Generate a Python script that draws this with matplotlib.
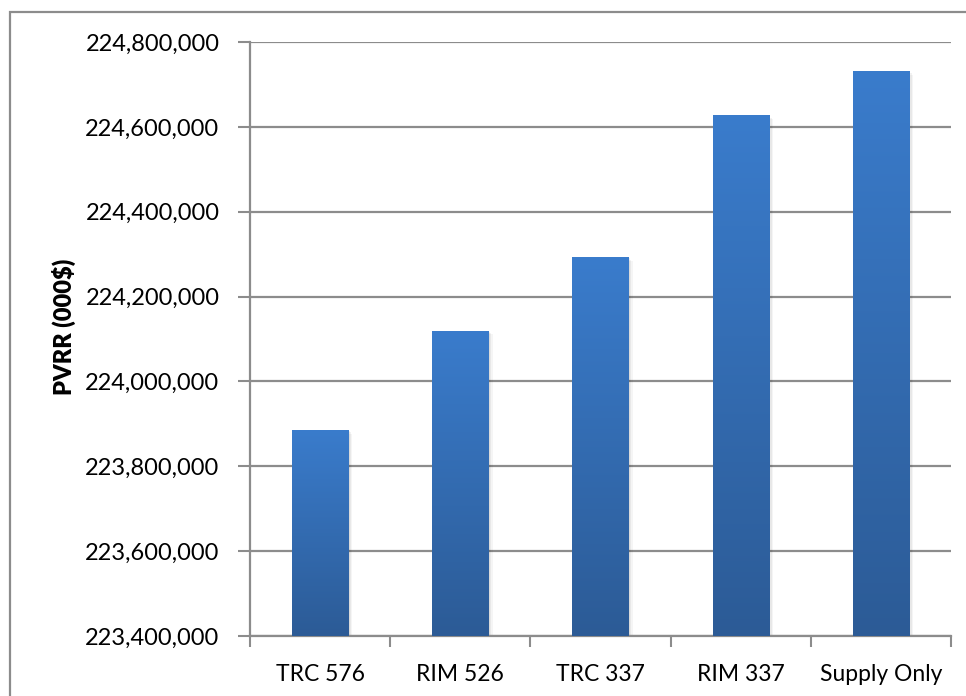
import numpy as np
import matplotlib.pyplot as plt
from matplotlib.colors import LinearSegmentedColormap
from matplotlib.patches import Rectangle
from matplotlib.ticker import FuncFormatter

categories = ["TRC 576", "RIM 526", "TRC 337", "RIM 337", "Supply Only"]
pvrr = [223886000, 224120000, 224293000, 224628000, 224732000]
y_min, y_max, y_step = 223400000, 224800000, 200000

plt.rcParams['font.family'] = ['Lato', 'DejaVu Sans']

fig = plt.figure(figsize=(9.66, 6.96), dpi=100)
ax = fig.add_axes([250 / 966, 60 / 696, 701 / 966, 594 / 696])

# outer chart border, runs off the right and bottom edges
fig.patches.append(Rectangle((10 / 966, -0.05), 1.1, (696 - 12) / 696 + 0.05,
                             transform=fig.transFigure, fill=False,
                             edgecolor='#8c8c8c', lw=1.6, zorder=0))

grid_col = '#8c8c8c'
x = np.arange(len(categories))
width = 0.4
bars = ax.bar(x, np.array(pvrr) - y_min, bottom=y_min, width=width,
              color='none', edgecolor='none', zorder=3)

cmap = LinearSegmentedColormap.from_list('bar', ['#2c5b96', '#3a7ccc'])
grad = np.linspace(0, 1, 256).reshape(-1, 1)
for b in bars:
    x0, y0 = b.get_x(), b.get_y()
    w, h = b.get_width(), b.get_height()
    # soft drop shadow
    for k, a in enumerate([0.06, 0.05, 0.04]):
        ax.add_patch(Rectangle((x0 + 0.01 * (k + 1), y0 - 3000 * (k + 1)), w, h,
                               facecolor='black', alpha=a, edgecolor='none', zorder=2))
    im = ax.imshow(grad, cmap=cmap, origin='lower', aspect='auto',
                   extent=[x0, x0 + w, y0, y0 + h], zorder=3)
    im.set_clip_path(b)

ax.set_xlim(-0.5, len(categories) - 0.5)
ax.set_ylim(y_min, y_max)
ax.set_yticks(np.arange(y_min, y_max + 1, y_step))
ax.yaxis.set_major_formatter(FuncFormatter(lambda v, p: f"{int(v):,}"))
ax.set_xticks(np.arange(-0.5, len(categories), 1.0), minor=False)
ax.set_xticklabels([])
ax.set_xticks(x, minor=True)
ax.set_xticklabels(categories, minor=True)
ax.tick_params(axis='x', which='minor', length=0, pad=20, labelsize=16.5)
ax.tick_params(axis='x', which='major', length=8, width=1.5, color=grid_col, direction='out')
ax.tick_params(axis='y', length=9, width=1.5, color=grid_col, pad=13, labelsize=17)

ax.grid(axis='y', color=grid_col, lw=1.6, zorder=1)
ax.set_axisbelow(True)
for s in ['top', 'right']:
    ax.spines[s].set_visible(False)
for s in ['left', 'bottom']:
    ax.spines[s].set_color(grid_col)
    ax.spines[s].set_linewidth(1.6)

ax.set_ylabel("PVRR (000$)", fontsize=17, fontweight='heavy')
ax.yaxis.set_label_coords((76 - 250) / 701, 0.52)

fig.savefig("out.png", dpi=100)
